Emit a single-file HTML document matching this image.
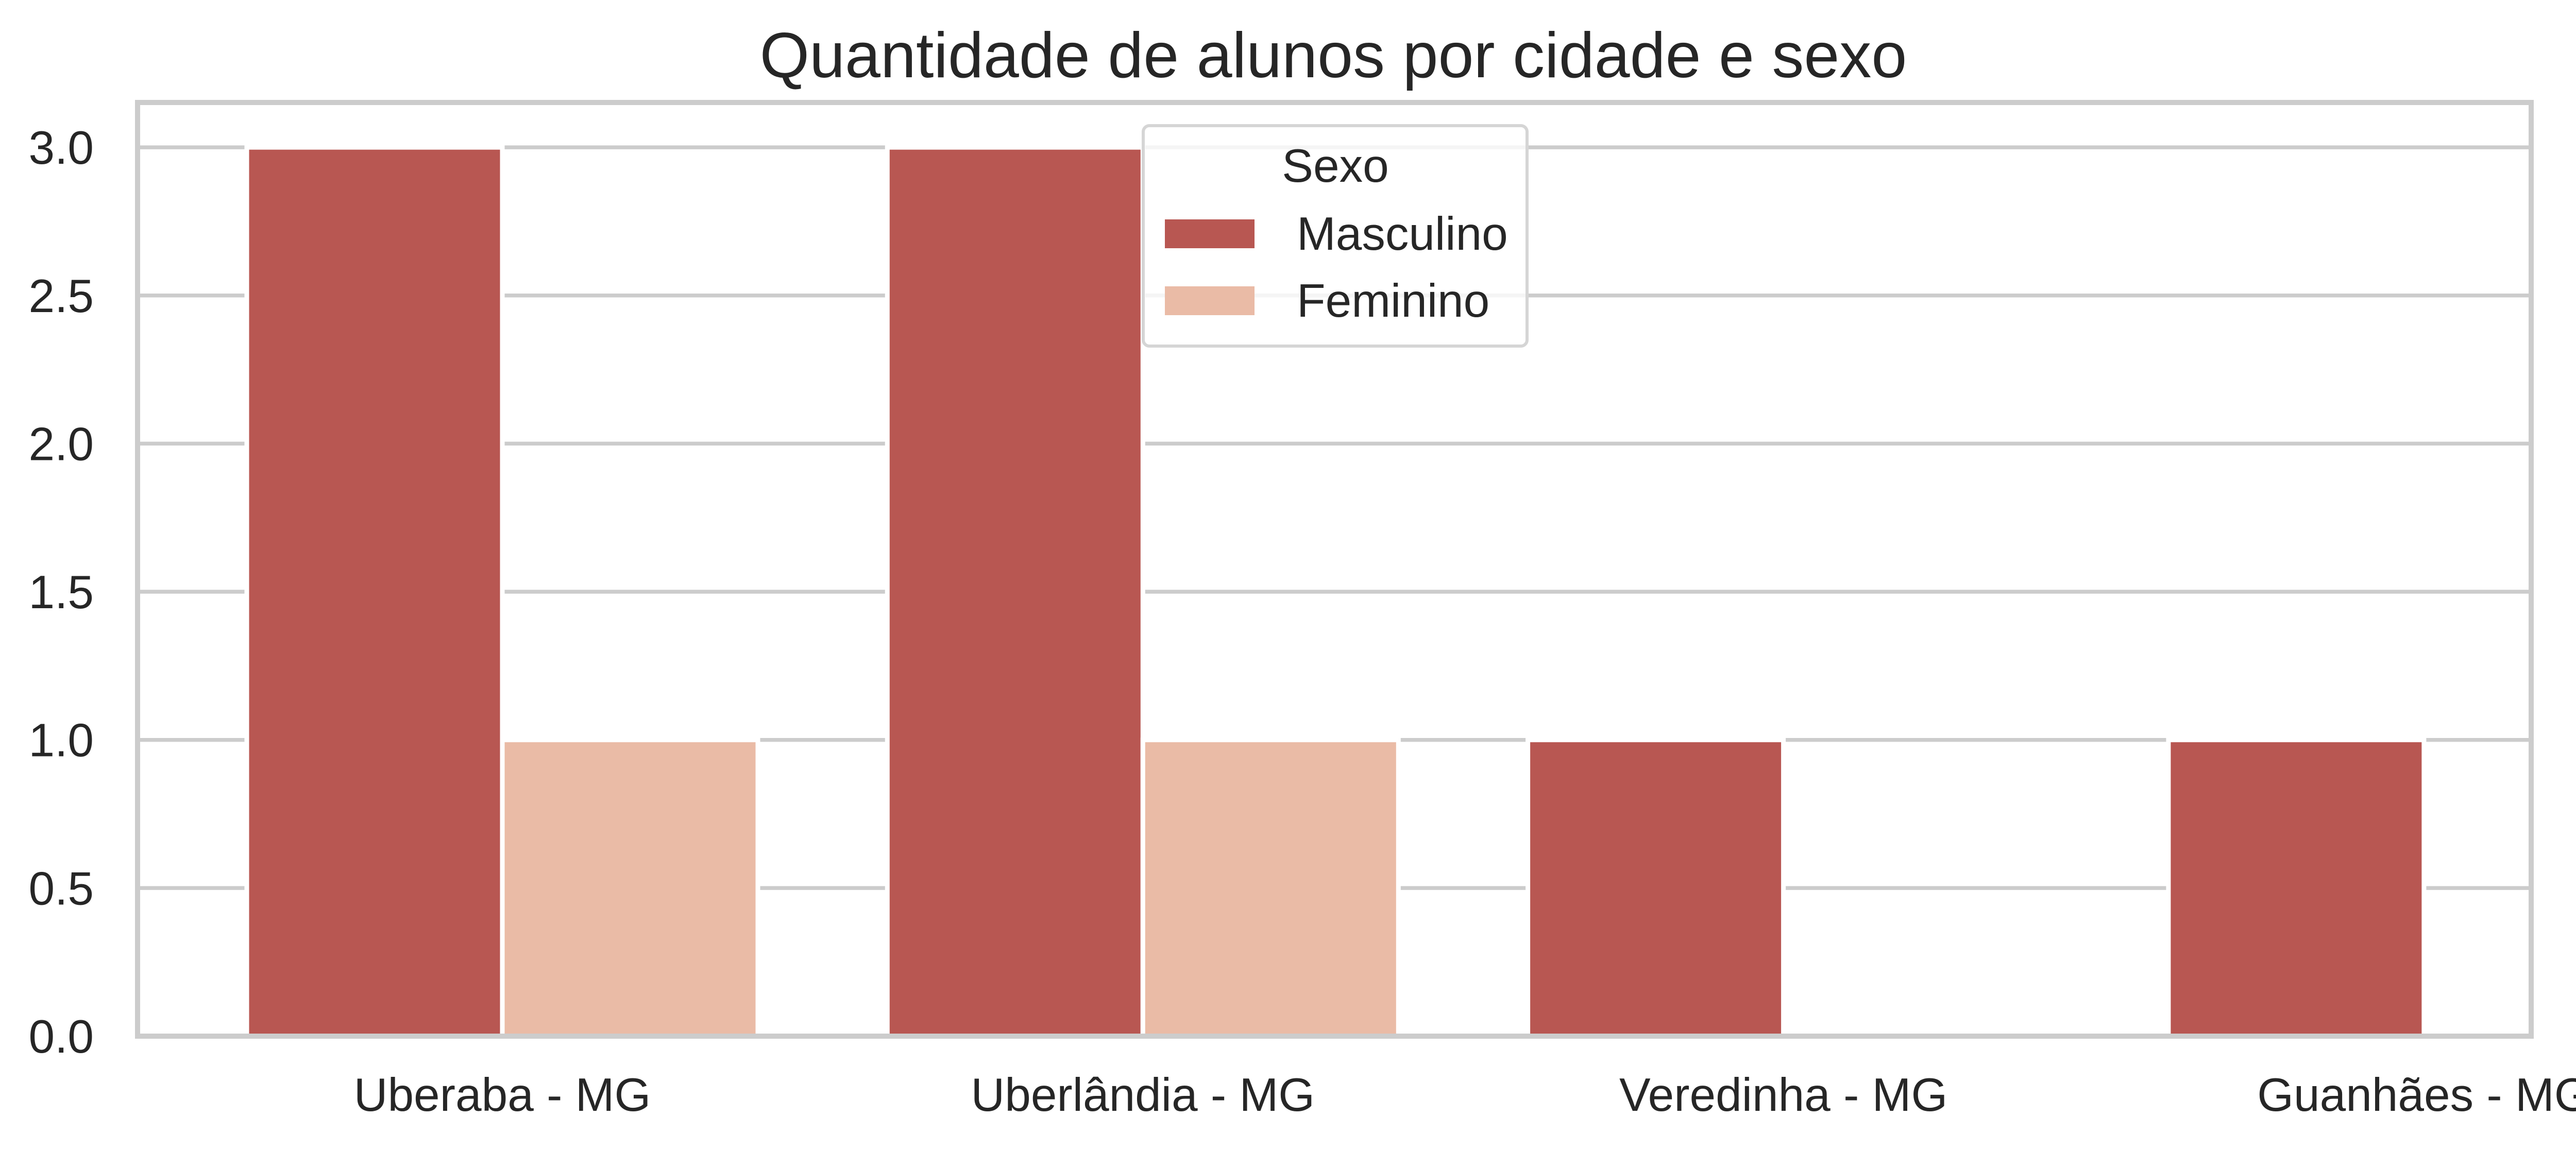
<!DOCTYPE html>
<html><head><meta charset="utf-8"><style>
html,body{margin:0;padding:0;background:#fff;}
svg{display:block;font-family:"Liberation Sans",Arial,sans-serif;}
</style></head><body>
<svg id="chart" width="5091" height="2235" viewBox="0 0 5091 2235" xmlns="http://www.w3.org/2000/svg">
<rect width="5091" height="2235" fill="#fff"/>
<text x="2588" y="150" font-size="124" fill="#262626" text-anchor="middle">Quantidade de alunos por cidade e sexo</text>
<g id="grid"></g>
<g id="bars"></g>
<g id="spines"></g>
<g id="yticks"></g>
<g id="xticks"></g>
<g>
<rect x="2219" y="244" width="745" height="428" rx="12" fill="#fff" fill-opacity="0.8" stroke="#d5d5d5" stroke-width="6"/>
<text x="2592" y="353" font-size="91" fill="#262626" text-anchor="middle">Sexo</text>
<rect x="2261" y="426" width="174" height="56" fill="#b85752"/>
<text x="2517" y="485" font-size="91" fill="#262626">Masculino</text>
<rect x="2261" y="556" width="174" height="56" fill="#eabba6"/>
<text x="2517" y="615" font-size="91" fill="#262626">Feminino</text>
</g>
</svg>
<script>
const categories = ["Uberaba - MG", "Uberlândia - MG", "Veredinha - MG", "Guanhães - MG"];
const masculino = [3, 3, 1, 1];
const feminino = [1, 1, 0, 0];
const yTicks = [0, 0.5, 1, 1.5, 2, 2.5, 3];
const yTickLabels = ["0.0", "0.5", "1.0", "1.5", "2.0", "2.5", "3.0"];

const NS = "http://www.w3.org/2000/svg";
const L = 267, R = 4913, T = 199, B = 2012;
function y(v){ return B - v * 575.3; }
function x(i){ return 975 + i * 1243.3; }
const half = 496;
function mk(tag, attrs, parent){
  const e = document.createElementNS(NS, tag);
  for (const k in attrs) e.setAttribute(k, attrs[k]);
  parent.appendChild(e);
  return e;
}
const grid = document.getElementById('grid');
yTicks.forEach((t, i) => {
  const ln = mk('line', {x1: L, x2: R, y1: y(t), y2: y(t), stroke: '#cccccc', 'stroke-width': 7.5}, grid);
  
  
  const tx = mk('text', {x: 182, y: y(t) + 32, 'font-size': 91, fill: '#262626', 'text-anchor': 'end'}, document.getElementById('yticks'));
  tx.textContent = yTickLabels[i];
  
  
});
const bars = document.getElementById('bars');
categories.forEach((c, i) => {
  const c0 = x(i);
  if (masculino[i] > 0) {
    const r = mk('rect', {x: c0 - half, y: y(masculino[i]), width: half, height: B - y(masculino[i]), fill: '#b85752', stroke: '#fff', 'stroke-width': 9}, bars);
    
    
  }
  if (feminino[i] > 0) {
    const r = mk('rect', {x: c0, y: y(feminino[i]), width: half, height: B - y(feminino[i]), fill: '#eabba6', stroke: '#fff', 'stroke-width': 9}, bars);
    
    
  }
  const tx = mk('text', {x: c0, y: 2157, 'font-size': 91, fill: '#262626', 'text-anchor': 'middle'}, document.getElementById('xticks'));
  tx.textContent = c;
  
  
});
const sp = document.getElementById('spines');
const frame = mk('rect', {x: L, y: T, width: R - L, height: B - T, fill: 'none', stroke: '#cccccc', 'stroke-width': 10}, sp);


</script>
</body></html>
